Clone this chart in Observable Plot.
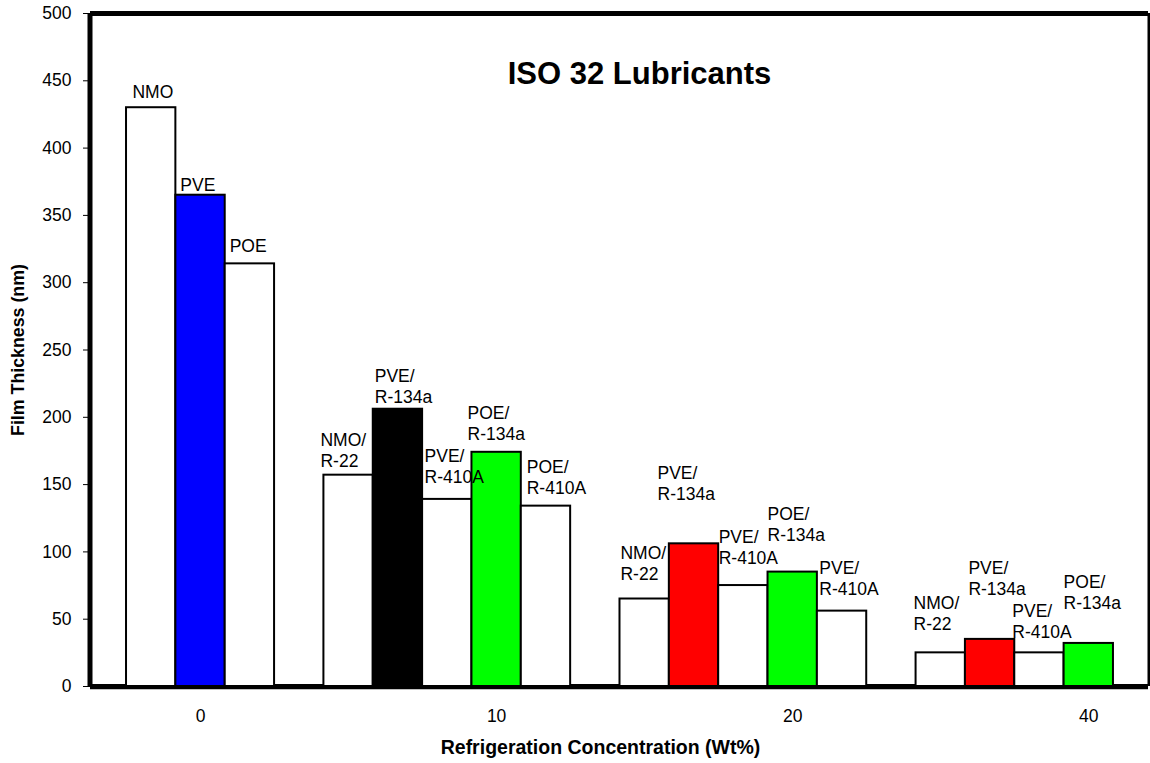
<!DOCTYPE html>
<html>
<head>
<meta charset="utf-8">
<script src="https://cdn.jsdelivr.net/npm/d3@7"></script>
<script src="https://cdn.jsdelivr.net/npm/@observablehq/plot@0.6"></script>
<style>
  html, body { margin: 0; padding: 0; background: #fff; }
  #chart { width: 1150px; height: 763px; }
</style>
</head>
<body>
<div id="chart"></div>
<script>
// ---- data ----
const categories = ["0", "10", "20", "40"];
const barGroup = [0, 0, 0, 1, 1, 1, 1, 1, 2, 2, 2, 2, 2, 3, 3, 3, 3];
const barLabels = [
  "NMO", "PVE", "POE",
  "NMO/\nR-22", "PVE/\nR-134a", "PVE/\nR-410A", "POE/\nR-134a", "POE/\nR-410A",
  "NMO/\nR-22", "PVE/\nR-134a", "PVE/\nR-410A", "POE/\nR-134a", "PVE/\nR-410A",
  "NMO/\nR-22", "PVE/\nR-134a", "PVE/\nR-410A", "POE/\nR-134a"
];
const filmThickness = [430, 365, 314, 157, 206, 139, 174, 134, 65, 106, 75, 85, 56, 25, 35, 25, 32];
// height (in nm units) at which each data label was placed
const labelHeights = [448, 379, 334, 190, 237, 178, 210, 170, 106, 165, 118, 134.5, 95, 69, 95, 62.5, 84];
const yTicks = [0, 50, 100, 150, 200, 250, 300, 350, 400, 450, 500];
const chartTitle = "ISO 32 Lubricants";
const xTitle = "Refrigeration Concentration (Wt%)";
const yTitle = "Film Thickness (nm)";

// ---- styles ----
const barColors = ["#ffffff", "#0000ff", "#ffffff", "#ffffff", "#000000", "#ffffff", "#00ff00", "#ffffff",
  "#ffffff", "#ff0000", "#ffffff", "#00ff00", "#ffffff", "#ffffff", "#ff0000", "#ffffff", "#00ff00"];
const labelShift = [0.12, 0.09, 0.09, -0.07, 0.03, 0.04, -0.09, 0.11, 0.01, -0.24, 0, -0.01, 0.04, -0.05, 0.06, -0.05, -0.01];

// ---- layout in bar slots ----
const slotOf = (i) => i + barGroup[i];
const rows = filmThickness.map((v, i) => ({
  s: slotOf(i), v, label: barLabels[i], color: barColors[i], ly: labelHeights[i], shift: labelShift[i]
}));
const groupSpan = d3.max(d3.rollups(barGroup, (g) => g.length, (g) => g), (d) => d[1]) + 1;
const gapSlots = [-1, ...categories.map((c, g) => d3.max(rows.filter((r, i) => barGroup[i] === g), (r) => r.s) + 1)];
const catTicks = categories.map((c, g) => g * groupSpan + 1.5);
const xDomain = [-0.73, 20.71];

const chart = Plot.plot({
  width: 1150,
  height: 763,
  marginLeft: 90,
  marginRight: 2,
  marginTop: 13,
  marginBottom: 77,
  style: { fontFamily: "'Liberation Sans', Arial, sans-serif", fontSize: "17.5px", background: "#fff", color: "#000" },
  x: { domain: xDomain, ticks: catTicks, tickFormat: (d) => categories[Math.round((d - 1.5) / groupSpan)], tickSize: 0, tickPadding: 23, label: null },
  y: { domain: [0, 500], ticks: yTicks, tickSize: 7, tickPadding: 12, tickFormat: (d) => String(d), label: null },
  color: { type: "identity" },
  marks: [
    Plot.rect(rows, { x1: "s", x2: (d) => d.s + 1, y1: 0, y2: "v", fill: "color", stroke: "#000", strokeWidth: 2 }),
    Plot.ruleY(gapSlots, { x1: (d) => Math.max(d, xDomain[0]), x2: (d) => Math.min(d + 1, xDomain[1]), y: 0, stroke: "#000", strokeWidth: 5 }),
    Plot.ruleY([0], { stroke: "#000", strokeWidth: 3.5, dy: 1 }),
    Plot.ruleY([500], { stroke: "#000", strokeWidth: 5 }),
    Plot.ruleX([xDomain[0]], { stroke: "#000", strokeWidth: 5, dx: -0.5 }),
    Plot.ruleX([xDomain[1]], { stroke: "#000", strokeWidth: 3, dx: 0.5 }),
    Plot.text(rows, { x: (d) => d.s + d.shift, y: "ly", text: "label", textAnchor: "start", lineAnchor: "top", fontSize: 17.5, lineHeight: 1.2, fill: "#000" }),
    Plot.text([chartTitle], { text: (d) => d, frameAnchor: "top", textAnchor: "middle", dx: 20, dy: 61, lineAnchor: "middle", fontSize: 31, fontWeight: "bold", fill: "#000" }),
    Plot.text([xTitle], { text: (d) => d, frameAnchor: "bottom", textAnchor: "middle", dx: -19, dy: 61, lineAnchor: "middle", fontSize: 19.5, fontWeight: "bold", fill: "#000" }),
    Plot.text([yTitle], { text: (d) => d, frameAnchor: "left", textAnchor: "middle", rotate: -90, dx: -72, lineAnchor: "middle", fontSize: 17.8, fontWeight: "bold", fill: "#000" })
  ]
});
document.getElementById("chart").appendChild(chart);
</script>
</body>
</html>
